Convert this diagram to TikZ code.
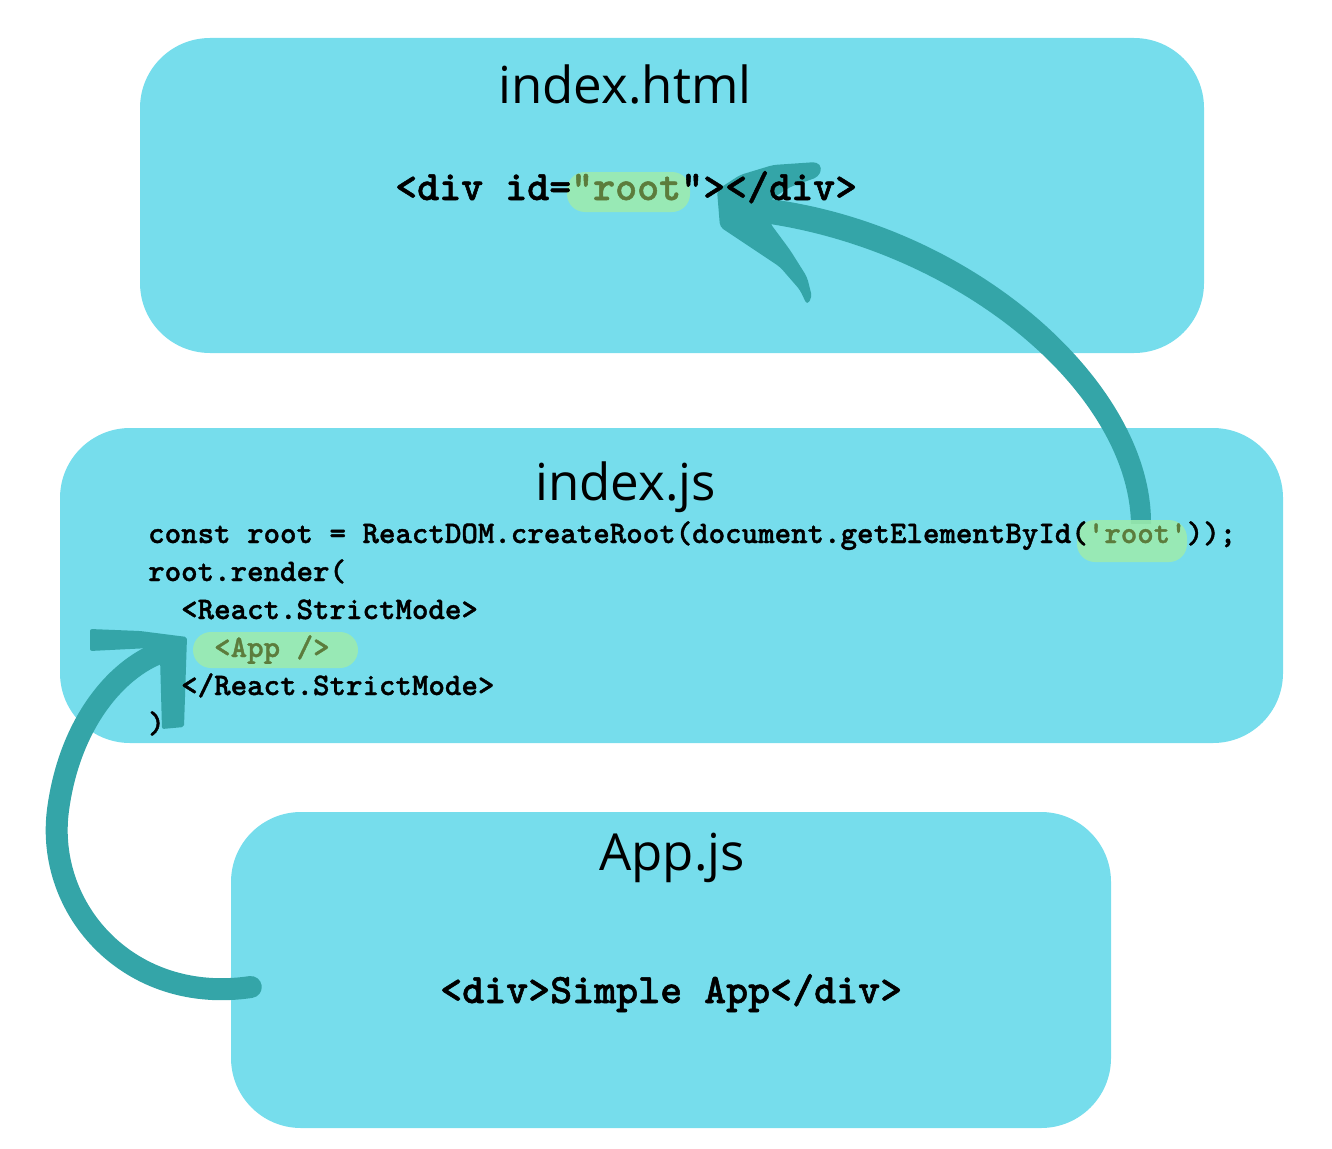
\documentclass[tikz,border=0pt]{standalone}
\usepackage{fontspec}
\setmainfont{Open Sans}
\newfontfamily\codefont{lmmonolt10-bold.otf}[FakeBold=1.2]
\usetikzlibrary{calc}
\definecolor{boxcyan}{RGB}{118,221,236}
\definecolor{penteal}{RGB}{52,165,168}
\definecolor{marker}{RGB}{158,236,172}
\definecolor{olive}{RGB}{92,124,60}
\pgfdeclarelayer{boxes}
\pgfdeclarelayer{arrows}
\pgfsetlayers{boxes,arrows,main}
\tikzset{
  filebox/.style={fill=boxcyan, rounded corners=70pt, inner sep=0pt},
  filename/.style={anchor=base, inner sep=0pt, font=\fontsize{51}{60}\selectfont},
  bigcode/.style={anchor=base west, inner sep=0pt, font=\codefont\fontsize{41.9}{44}\selectfont},
  smallcode/.style={anchor=base west, inner sep=0pt, font=\codefont\fontsize{31.4}{34}\selectfont},
  hilite/.style={fill=marker, fill opacity=.85, rounded corners=18pt, inner sep=0pt},
  swoosh/.style={draw=penteal, line cap=round, line join=round},
  swooshhead/.style={fill=penteal, rounded corners=4pt},
}
\begin{document}
\begin{tikzpicture}[x=1pt,y=-1pt]
	\useasboundingbox (0,0) rectangle (1332,1148);
	\begin{pgfonlayer}{boxes}
		\node[filebox, minimum width=1064pt, minimum height=315pt] (html) at (672,195.5) {};
		\node[filebox, minimum width=1223pt, minimum height=315pt] (js) at (671.5,585.5) {};
		\node[filebox, minimum width=880pt, minimum height=316pt] (app) at (671,970) {};
	\end{pgfonlayer}
	% marker strokes
	\node[hilite, minimum width=123pt, minimum height=40pt] (htmlroot) at (628.5,192) {};
	\node[hilite, minimum width=110pt, minimum height=42pt] (jsroot) at (1132,541) {};
	\node[hilite, minimum width=165pt, minimum height=36pt] (jsapp) at (275.5,650) {};
	% file names
	\node[filename] (htmlname) at (625,103) {index.html};
	\node[filename] (jsname) at (625.5,500) {index.js};
	\node[filename] (appname) at (672,870) {App.js};
	% code
	\node[bigcode] (rootdiv) at (395,200) {<div id=\textcolor{olive}{"root}"></div>};
	\node[smallcode] (l1) at (148,543) {const root = ReactDOM.createRoot(document.getElementById(\textcolor{olive}{'root'}));};
	\node[smallcode] (l2) at (148,581) {root.render(};
	\node[smallcode] (l3) at (181,619) {<React.StrictMode>};
	\node[smallcode] (l4) at (214,657) {\textcolor{olive}{<App />}};
	\node[smallcode] (l5) at (181,695) {</React.StrictMode>};
	\node[smallcode] (l6) at (148,733) {)};
	\node[bigcode] (appdiv) at (440,1003) {<div>Simple App</div>};
	% hand drawn arrows
	\begin{pgfonlayer}{arrows}
		\coordinate (rtip) at (715,205);
		\fill[penteal] ($(jsroot.north)+(-1,4)$) .. controls (1128,392) and (962,254) .. ($(rtip)+(55,19)$)
			-- ($(rtip)+(55,-6)$) .. controls (975,226) and (1152,383) .. ($(jsroot.north)+(19,4)$) -- cycle;
		\fill[swooshhead] ($(rtip)+(2,-15)$) -- ++(23,-15) -- ++(33,-10) -- ++(44,-3) -- ++(5,6) -- ++(-4,9)
			-- ++(-28,10) -- ++(-20,13) -- ++(0,23) -- ++(20,27) -- ++(17,27) -- ++(5,20) -- ++(-5,8)
			-- ++(-7,-15) -- ++(-20,-23) -- ++(-30,-20) -- ++(-30,-20) -- cycle;
		\coordinate (ltip) at (187,637);
		\draw[swoosh, line width=22pt] ($(app.west)+(20,17)$) .. controls (130,1005) and (45,910) .. (58,810) .. controls (70,720) and (120,665) .. ($(ltip)+(-22,14)$);
		\fill[swooshhead, rounded corners=2pt] (ltip) -- ++(-3,90) -- ++(-22,2) -- ++(-2,-72) -- ++(-10,-9)
			-- ++(-60,3) -- ++(0,-22) -- ++(50,2) -- cycle;
	\end{pgfonlayer}
\end{tikzpicture}
\end{document}
